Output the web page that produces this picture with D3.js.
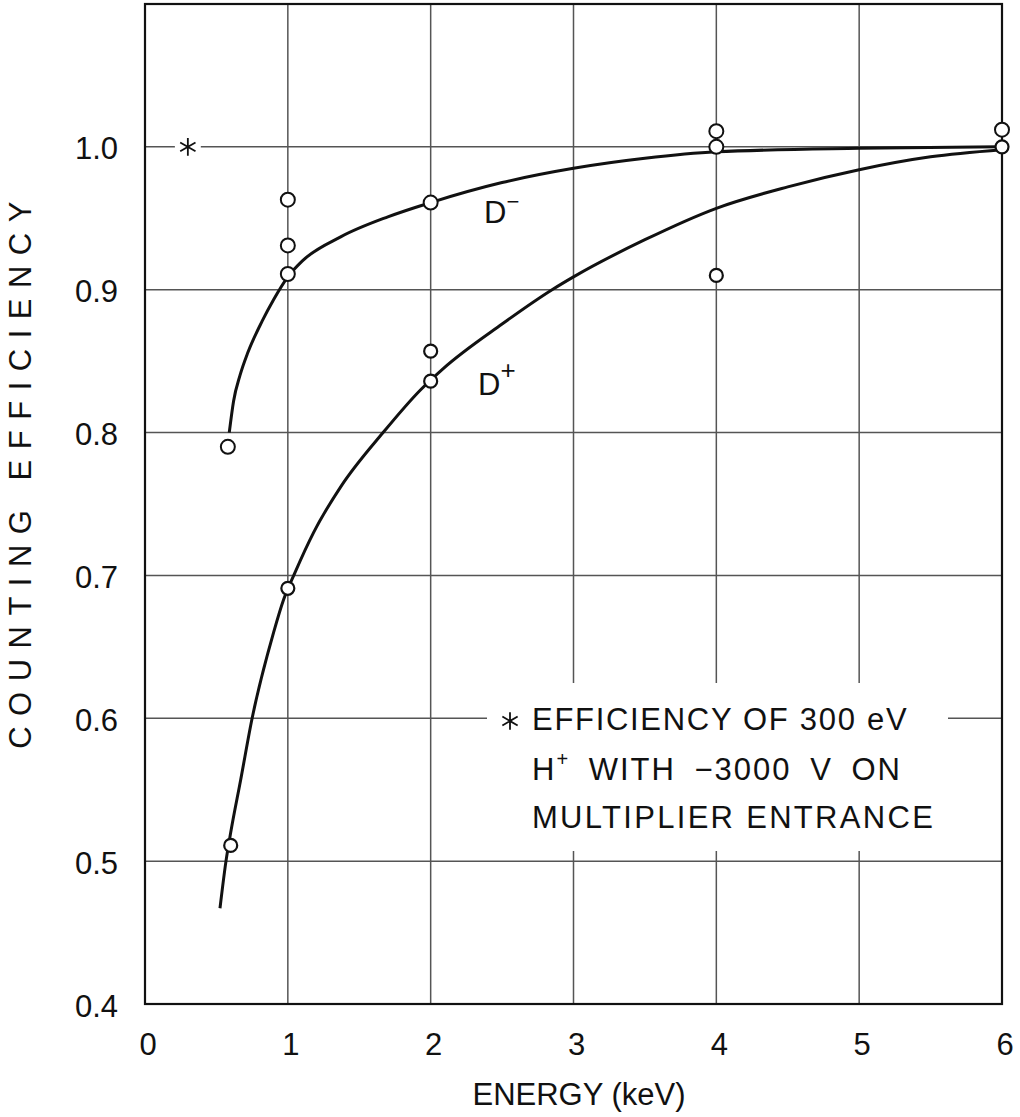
<!DOCTYPE html>
<html>
<head>
<meta charset="utf-8">
<script src="https://cdnjs.cloudflare.com/ajax/libs/d3/7.8.5/d3.min.js"></script>
<style>
  body { margin: 0; background: #fff; }
  svg { display: block; }
  text { font-family: "Liberation Sans", Arial, sans-serif; fill: #111; }
</style>
</head>
<body>
<svg width="1020" height="1117"></svg>
<script>
// axis ticks
const xTicks = [0, 1, 2, 3, 4, 5, 6];
const yTicks = [0.4, 0.5, 0.6, 0.7, 0.8, 0.9, 1.0];
const yTickLabels = ["0.4", "0.5", "0.6", "0.7", "0.8", "0.9", "1.0"];

// measured points (energy keV, efficiency)
const dMinusPoints = [[0.58, 0.79], [1, 0.911], [1, 0.931], [1, 0.963], [2, 0.961], [4, 1.0], [4, 1.011], [6, 1.012]];
const dPlusPoints = [[0.6, 0.511], [1, 0.691], [2, 0.836], [2, 0.857], [4, 0.91], [6, 1.0]];
const hPlusPoint = [[0.3, 1.0]];

// hand-drawn fitted curves
const dMinusCurve = [[0.59, 0.80], [0.62, 0.822], [0.665, 0.840], [0.72, 0.856], [0.82, 0.878], [0.9, 0.893],
  [1.0, 0.909], [1.1, 0.920], [1.37, 0.937], [1.7, 0.951], [2.0, 0.961], [2.5, 0.975], [3.0, 0.985],
  [3.5, 0.992], [4.0, 0.9965], [5.0, 0.999], [6.0, 1.0]];
const dPlusCurve = [[0.525, 0.467], [0.567, 0.50], [0.6, 0.52], [0.67, 0.557], [0.75, 0.60], [0.9, 0.66],
  [0.97, 0.683], [1.05, 0.702], [1.18, 0.730], [1.37, 0.762], [1.667, 0.80], [1.93, 0.830], [2.09, 0.845],
  [2.5, 0.876], [2.85, 0.90], [3.0, 0.909], [3.5, 0.935], [4.0, 0.957], [4.5, 0.972], [5.0, 0.984],
  [5.5, 0.993], [6.0, 0.998]];

const legendLines = ["EFFICIENCY OF 300 eV", "WITH \u22123000 V ON", "MULTIPLIER ENTRANCE"];

const svg = d3.select("svg");

const x = d3.scaleLinear().domain([0, 6]).range([145, 1002]);
const y = d3.scaleLinear().domain([0.4, 1.1]).range([1004, 4]);

// grid
const grid = svg.append("g").attr("stroke", "#555").attr("stroke-width", 1.5);
grid.selectAll("line.v")
  .data(xTicks.slice(1, -1))
  .join("line")
  .attr("x1", d => x(d)).attr("x2", d => x(d))
  .attr("y1", y(1.1)).attr("y2", y(0.4));
grid.selectAll("line.h")
  .data(yTicks.slice(1))
  .join("line")
  .attr("x1", x(0)).attr("x2", x(6))
  .attr("y1", d => y(d)).attr("y2", d => y(d));

// white patch behind the legend text
svg.append("rect")
  .attr("x", 487).attr("y", 683)
  .attr("width", 461).attr("height", 168)
  .attr("fill", "#fff");

// frame
svg.append("rect")
  .attr("x", x(0)).attr("y", y(1.1))
  .attr("width", x(6) - x(0)).attr("height", y(0.4) - y(1.1))
  .attr("fill", "none").attr("stroke", "#111").attr("stroke-width", 2.2);

// curves
const line = d3.line()
  .x(d => x(d[0])).y(d => y(d[1]))
  .curve(d3.curveMonotoneX);

svg.append("path").datum(dMinusCurve)
  .attr("d", line).attr("fill", "none")
  .attr("stroke", "#111").attr("stroke-width", 3);
svg.append("path").datum(dPlusCurve)
  .attr("d", line).attr("fill", "none")
  .attr("stroke", "#111").attr("stroke-width", 3);

// data points
svg.selectAll("circle.dm")
  .data(dMinusPoints)
  .join("circle")
  .attr("cx", d => x(d[0])).attr("cy", d => y(d[1]))
  .attr("r", 7)
  .attr("fill", "#fff").attr("stroke", "#111").attr("stroke-width", 2);

svg.selectAll("circle.dp")
  .data(dPlusPoints)
  .join("circle")
  .attr("cx", d => x(d[0])).attr("cy", d => y(d[1]))
  .attr("r", 6.5)
  .attr("fill", "#fff").attr("stroke", "#111").attr("stroke-width", 2.2);

// asterisk point (H+ at 300 eV)
const star = d3.symbol().type(d3.symbolAsterisk).size(220);
svg.selectAll("g.hp")
  .data(hPlusPoint)
  .join("g")
  .attr("transform", d => `translate(${x(d[0])},${y(d[1])})`)
  .call(g => g.append("circle").attr("r", 13).attr("fill", "#fff"))
  .call(g => g.append("path").attr("d", star).attr("fill", "none")
    .attr("stroke", "#111").attr("stroke-width", 1.8));

// tick labels
svg.selectAll("text.yt")
  .data(yTicks)
  .join("text")
  .attr("x", 118)
  .attr("y", d => y(d) + 2)
  .attr("text-anchor", "end")
  .attr("dominant-baseline", "central")
  .attr("font-size", 31)
  .text((d, i) => yTickLabels[i]);

svg.selectAll("text.xt")
  .data(xTicks)
  .join("text")
  .attr("x", d => x(d) + 3)
  .attr("y", 1055)
  .attr("text-anchor", "middle")
  .attr("font-size", 31)
  .text(d => d);

// axis titles
svg.append("text")
  .attr("x", 579).attr("y", 1105)
  .attr("text-anchor", "middle")
  .attr("font-size", 31)
  .text("ENERGY (keV)");

svg.append("text")
  .attr("transform", "translate(31,470) rotate(-90)")
  .attr("text-anchor", "middle")
  .attr("font-size", 31)
  .attr("letter-spacing", 10.5)
  .text("COUNTING EFFICIENCY");

// curve labels
const dm = svg.append("text").attr("x", 484).attr("y", 223).attr("font-size", 31);
dm.append("tspan").text("D");
dm.append("tspan").attr("dy", -14).attr("font-size", 22).text("\u2212");

const dp = svg.append("text").attr("x", 478).attr("y", 395).attr("font-size", 31);
dp.append("tspan").text("D");
dp.append("tspan").attr("dy", -16).attr("font-size", 26).text("+");

// legend
svg.append("path")
  .attr("d", star)
  .attr("transform", "translate(510,721)")
  .attr("fill", "none").attr("stroke", "#111").attr("stroke-width", 1.8);

svg.append("text").attr("x", 532).attr("y", 730).attr("font-size", 31)
  .attr("letter-spacing", 1.7).text(legendLines[0]);

const h = svg.append("text").attr("x", 532).attr("y", 780).attr("font-size", 31)
  .attr("letter-spacing", 2).attr("word-spacing", 8);
h.append("tspan").text("H");
h.append("tspan").attr("dy", -14).attr("font-size", 20).text("+");
h.append("tspan").attr("dy", 14).text(" " + legendLines[1]);

svg.append("text").attr("x", 532).attr("y", 828).attr("font-size", 31)
  .attr("letter-spacing", 2.3).text(legendLines[2]);
</script>
</body>
</html>
